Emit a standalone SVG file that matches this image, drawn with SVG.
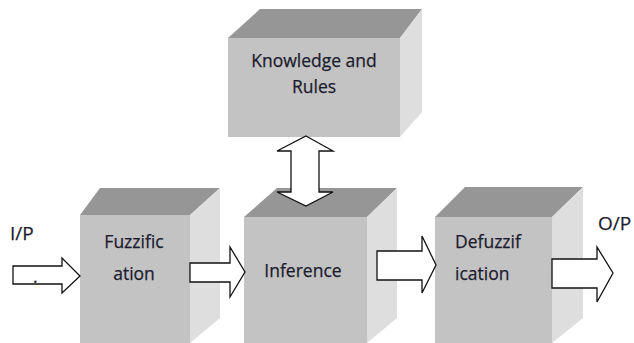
<svg xmlns="http://www.w3.org/2000/svg" width="634" height="343" viewBox="0 0 634 343">
<style>
.front{fill:#c3c3c3}
.top{fill:#969696}
.side{fill:#dedede}
.arrow{fill:#ffffff;stroke:#111111;stroke-width:1.3;stroke-linejoin:miter}
.t{font-family:"Open Sans","Liberation Sans",sans-serif;font-size:17.5px;fill:#1c1c2e;stroke:#1c1c2e;stroke-width:0.25}
.lbl{font-family:"Open Sans","Liberation Sans",sans-serif;font-size:19px;fill:#1c1c2e;stroke:#1c1c2e;stroke-width:0.25}
</style>
<rect width="634" height="343" fill="#ffffff"/>
<g id="knowledge">
<polygon class="top" points="228,38 260,9 422,9 400,38"/>
<polygon class="side" points="400,38 422,9 422,112 400,137"/>
<rect class="front" x="228" y="38" width="172" height="99"/>
<text class="t" x="314" y="67" text-anchor="middle">Knowledge and</text>
<text class="t" x="314" y="93" text-anchor="middle">Rules</text>
</g>
<g id="fuzzification">
<polygon class="top" points="80,215 100,188 220,188 190,215"/>
<polygon class="side" points="190,215 220,188 220,318 190,343"/>
<rect class="front" x="80" y="215" width="110" height="128"/>
<text class="t" x="134" y="248" text-anchor="middle">Fuzzific</text>
<text class="t" x="134" y="280" text-anchor="middle">ation</text>
</g>
<g id="inference">
<polygon class="top" points="244,217 277,188 397,188 367,217"/>
<polygon class="side" points="367,217 397,188 397,318 367,343"/>
<rect class="front" x="244" y="217" width="123" height="126"/>
<text class="t" x="303" y="277" text-anchor="middle">Inference</text>
</g>
<g id="defuzzification">
<polygon class="top" points="435,217 465,187 583,187 552,217"/>
<polygon class="side" points="552,217 583,187 583,318 552,343"/>
<rect class="front" x="435" y="217" width="117" height="126"/>
<text class="t" x="455" y="248">Defuzzif</text>
<text class="t" x="455" y="280">ication</text>
</g>
<g id="labels">
<text class="lbl" x="10" y="240">I/P</text>
<text class="lbl" x="598" y="230">O/P</text>
</g>
<g id="connectors">
<polygon class="arrow" points="13,266 62,266 62,258 80,276 62,293 62,284 13,284"/>
<text class="t" x="33" y="283" font-size="10">.</text>
<polygon class="arrow" points="190,263 230,263 230,247 245,272 230,297 230,282 190,282"/>
<polygon class="arrow" points="377,251 422,251 422,236 436,265 422,293 422,280 377,280"/>
<polygon class="arrow" points="552,259 597,259 597,247 613,273 597,302 597,288 552,288"/>
<polygon class="arrow" points="306,136 333,151 319,151 319,192 333,192 306,206 277,192 291,192 291,151 277,151"/>
</g>
</svg>
